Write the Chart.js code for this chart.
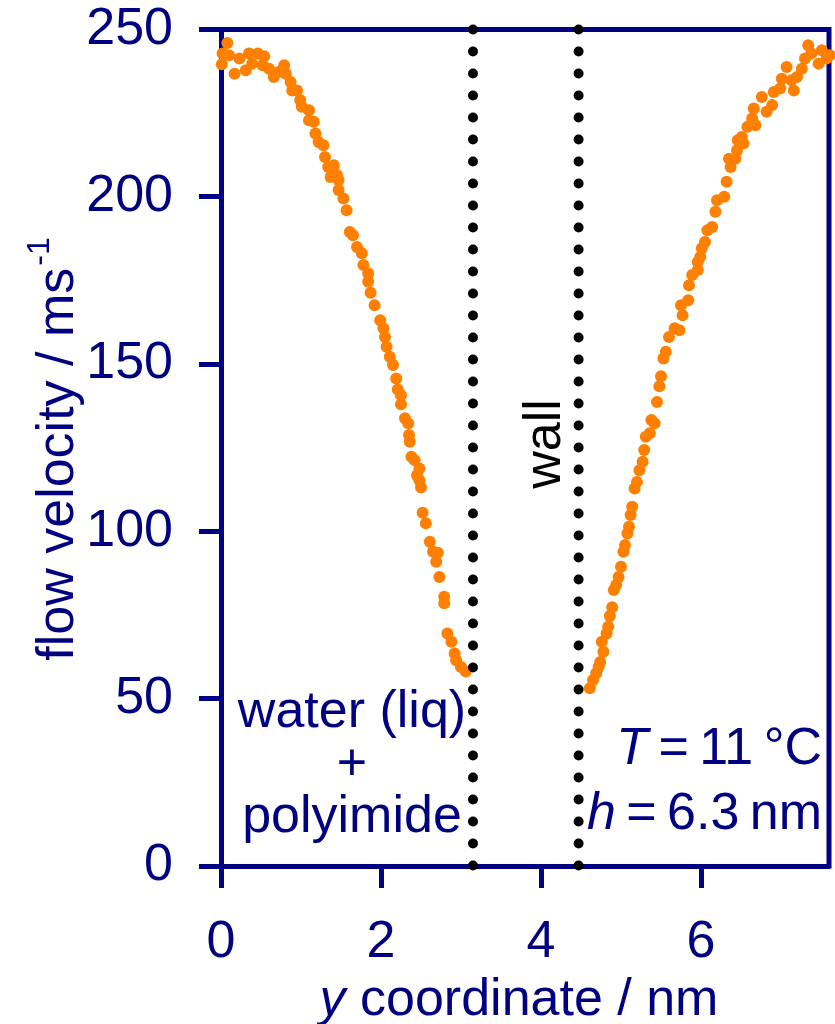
<!DOCTYPE html>
<html>
<head>
<meta charset="utf-8">
<title>Flow velocity profile</title>
<script src="https://cdn.jsdelivr.net/npm/chart.js@4.4.1/dist/chart.umd.min.js"></script>
<style>
  html, body { margin: 0; padding: 0; background: #fff; }
  #wrap { width: 835px; height: 1024px; }
</style>
</head>
<body>
<div id="wrap"><canvas id="velocity-chart" width="835" height="1024"></canvas></div>
<script>
// left channel (water + polyimide side): y coordinate in nm, velocity in m/s
const leftCoord = [0.01, 0.02, 0.08, 0.10, 0.17, 0.23, 0.31, 0.35, 0.39, 0.46, 0.52, 0.54, 0.60, 0.66, 0.72, 0.79, 0.81, 0.87, 0.89, 0.95,
  0.99, 1.01, 1.10, 1.10, 1.16, 1.18, 1.22, 1.28, 1.30, 1.34, 1.41, 1.37, 1.45, 1.47, 1.47, 1.53, 1.57, 1.61, 1.65, 1.70,
  1.76, 1.78, 1.84, 1.84, 1.87, 1.92, 1.99, 2.03, 2.05, 2.07, 2.11, 2.15, 2.19, 2.21, 2.25, 2.25, 2.30, 2.34, 2.35, 2.36,
  2.38, 2.42, 2.48, 2.45, 2.48, 2.50, 2.52, 2.56, 2.61, 2.65, 2.71, 2.69, 2.73, 2.79, 2.79, 2.83, 2.88, 2.92, 2.94, 3.00, 3.06];
const leftVelocity = [239.6, 242.8, 246.0, 242.3, 236.8, 241.3, 237.8, 242.8, 239.8, 242.8, 239.3, 242.0, 238.3, 235.8, 237.3, 239.3, 236.8, 234.3, 231.8, 231.8,
  228.9, 226.9, 225.9, 222.9, 222.4, 218.9, 216.4, 215.4, 211.9, 208.9, 209.4, 205.9, 206.5, 205.0, 202.0, 199.5, 196.0, 189.5, 188.5, 185.0,
  183.1, 179.6, 177.1, 174.6, 171.3, 167.6, 163.1, 160.7, 158.1, 155.2, 152.2, 149.7, 145.7, 142.4, 140.7, 138.0, 133.8, 132.3, 128.8, 126.8,
  122.3, 121.3, 118.8, 116.8, 115.3, 113.1, 105.6, 102.4, 96.9, 93.9, 93.6, 90.9, 86.4, 80.5, 78.5, 69.5, 67.0, 63.5, 61.5, 59.5, 58.1];

// right channel
const rightCoord = [4.61, 4.65, 4.69, 4.72, 4.74, 4.78, 4.76, 4.82, 4.84, 4.86, 4.89, 4.91, 4.94, 4.97, 5.00, 5.03, 5.05, 5.08, 5.10, 5.12,
  5.14, 5.17, 5.20, 5.23, 5.27, 5.29, 5.31, 5.36, 5.38, 5.42, 5.45, 5.48, 5.50, 5.53, 5.56, 5.60, 5.67, 5.73, 5.75, 5.77,
  5.84, 5.85, 5.89, 5.96, 5.96, 5.99, 6.01, 6.05, 6.08, 6.14, 6.18, 6.20, 6.29, 6.32, 6.35, 6.37, 6.43, 6.45, 6.46, 6.53,
  6.51, 6.58, 6.64, 6.68, 6.66, 6.76, 6.82, 6.89, 6.91, 6.99, 7.01, 7.07, 7.13, 7.16, 7.20, 7.26, 7.30, 7.34, 7.38, 7.47,
  7.51, 7.57, 7.61];
const rightVelocity = [53.1, 55.6, 57.6, 59.5, 61.0, 64.0, 67.0, 69.5, 71.5, 74.7, 77.3, 82.5, 84.0, 86.4, 89.4, 93.9, 95.9, 99.4, 101.4, 104.9,
  107.4, 112.8, 114.8, 118.3, 120.8, 124.3, 128.3, 129.3, 133.3, 132.3, 138.7, 143.4, 146.4, 151.7, 153.7, 158.1, 160.7, 160.1, 167.6, 164.6,
  169.1, 173.6, 176.6, 178.1, 180.5, 182.0, 184.6, 186.5, 190.0, 191.0, 195.5, 199.0, 200.0, 204.5, 211.4, 208.9, 211.4, 213.9, 216.9, 215.9,
  217.9, 220.9, 223.4, 221.4, 226.4, 229.8, 225.4, 227.4, 231.3, 232.4, 235.3, 238.8, 234.8, 231.8, 235.8, 238.3, 241.3, 245.3, 242.8, 239.8,
  243.8, 241.3, 242.3];

// wall boundaries (nm)
const wallEdges = [3.15, 4.47];

const xTickValues = [0, 2, 4, 6];
const yTickValues = [0, 50, 100, 150, 200, 250];
const xRange = [0, 7.6];
const yRange = [0, 250];

const NAVY = "#000080";
const ORANGE = "#FF8000";
const FONT = "'Liberation Sans', Arial, Helvetica, sans-serif";
const SIZE = 52;

const points = leftCoord.map((c, i) => ({ x: c, y: leftVelocity[i] }))
  .concat(rightCoord.map((c, i) => ({ x: c, y: rightVelocity[i] })));

const wallSets = wallEdges.map(e => ({
  data: [{ x: e, y: yRange[1] }, { x: e, y: yRange[0] }],
  showLine: true,
  borderColor: "#000",
  borderWidth: 10,
  borderDash: [0, 22],
  borderCapStyle: "round",
  pointRadius: 0,
  clip: false,
}));

// top and right sides of the frame
const framePlugin = {
  id: "frame",
  beforeDatasetsDraw(chart) {
    const { ctx, chartArea: a } = chart;
    ctx.save();
    ctx.strokeStyle = NAVY;
    ctx.lineWidth = 5;
    ctx.beginPath();
    ctx.moveTo(a.left - 2.5, a.top);
    ctx.lineTo(a.right, a.top);
    ctx.lineTo(a.right, a.bottom + 2.5);
    ctx.stroke();
    ctx.restore();
  }
};

function drawParts(ctx, parts, x, y, size, align) {
  const widths = parts.map(p => {
    ctx.font = `${p.italic ? "italic " : ""}${size}px ${FONT}`;
    return ctx.measureText(p.text).width;
  });
  const total = widths.reduce((s, w) => s + w, 0);
  let cx = align === "right" ? x - total : align === "center" ? x - total / 2 : x;
  ctx.textAlign = "left";
  parts.forEach((p, i) => {
    ctx.font = `${p.italic ? "italic " : ""}${size}px ${FONT}`;
    ctx.fillText(p.text, cx, y);
    cx += widths[i];
  });
}

// axis titles and annotations
const labelsPlugin = {
  id: "labels",
  afterDraw(chart) {
    const { ctx } = chart;
    ctx.save();
    ctx.textBaseline = "alphabetic";
    ctx.fillStyle = NAVY;

    // x title
    drawParts(ctx, [{ text: "y", italic: true }, { text: " coordinate / nm" }], 519, 1015, SIZE, "center");

    // y title with superscript
    ctx.save();
    ctx.translate(73, 450);
    ctx.rotate(-Math.PI / 2);
    ctx.font = `${SIZE}px ${FONT}`;
    const main = "flow velocity / ms";
    const w1 = ctx.measureText(main).width;
    ctx.font = `32px ${FONT}`;
    const w2 = ctx.measureText("-1").width;
    const start = -(w1 + w2) / 2;
    ctx.textAlign = "left";
    ctx.font = `${SIZE}px ${FONT}`;
    ctx.fillText(main, start, 0);
    ctx.font = `32px ${FONT}`;
    ctx.fillText("-1", start + w1 + 2, -24);
    ctx.restore();

    // left channel contents
    ctx.textAlign = "center";
    ctx.font = `${SIZE}px ${FONT}`;
    ctx.fillText("water (liq)", 352, 727);
    ctx.fillText("+", 352, 780);
    ctx.fillText("polyimide", 352, 832);

    // conditions
    const thin = "\u2009";
    drawParts(ctx, [{ text: "T", italic: true }, { text: thin + "=" + thin + "11" + thin + "°C" }], 822, 764, SIZE, "right");
    drawParts(ctx, [{ text: "h", italic: true }, { text: thin + "=" + thin + "6.3" + thin + "nm" }], 822, 829, SIZE, "right");

    // wall label
    ctx.fillStyle = "#000";
    ctx.save();
    ctx.translate(560, 444);
    ctx.rotate(-Math.PI / 2);
    ctx.textAlign = "center";
    ctx.font = `${SIZE}px ${FONT}`;
    ctx.fillText("wall", 0, 0);
    ctx.restore();

    ctx.restore();
  }
};

const tickFont = { family: FONT, size: SIZE };

new Chart(document.getElementById("velocity-chart"), {
  type: "scatter",
  data: {
    datasets: [
      ...wallSets,
      {
        data: points,
        backgroundColor: ORANGE,
        borderWidth: 0,
        pointRadius: 6,
        clip: false,
      }
    ]
  },
  options: {
    responsive: false,
    animation: false,
    layout: { padding: { top: 29.5, right: -4, left: 0, bottom: 0 } },
    plugins: { legend: { display: false }, tooltip: { enabled: false } },
    scales: {
      x: {
        type: "linear",
        min: xRange[0],
        max: xRange[1],
        afterBuildTicks: s => { s.ticks = xTickValues.map(v => ({ value: v })); },
        afterFit: s => { s.height = 158; s.paddingLeft = 0; s.paddingRight = 0; },
        grid: { drawOnChartArea: false, drawTicks: true, tickLength: 22, tickWidth: 5, tickColor: NAVY },
        border: { display: true, color: NAVY, width: 5 },
        ticks: { color: NAVY, font: tickFont, padding: 23, maxRotation: 0 },
      },
      y: {
        type: "linear",
        min: yRange[0],
        max: yRange[1],
        afterBuildTicks: s => { s.ticks = yTickValues.map(v => ({ value: v })); },
        afterFit: s => { s.width = 221; s.paddingTop = 0; s.paddingBottom = 0; },
        grid: { drawOnChartArea: false, drawTicks: true, tickLength: 22, tickWidth: 5, tickColor: NAVY },
        border: { display: true, color: NAVY, width: 5 },
        ticks: { color: NAVY, font: tickFont, padding: 26 },
      }
    }
  },
  plugins: [framePlugin, labelsPlugin]
});
</script>
</body>
</html>
